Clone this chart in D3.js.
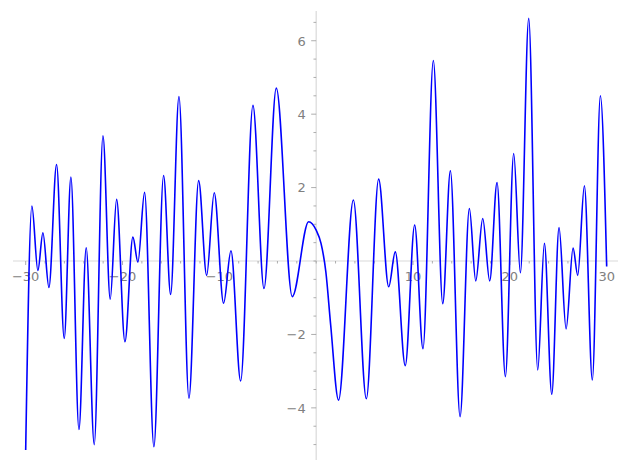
<!DOCTYPE html>
<html>
<head>
<meta charset="utf-8">
<script src="https://cdn.jsdelivr.net/npm/d3@7"></script>
<style>
  body { margin: 0; background: #fff; }
  text { font-family: "DejaVu Sans", sans-serif; font-size: 13px; fill: #808080; }
</style>
</head>
<body>
<svg id="chart" width="627" height="470"></svg>
<script>
// curve points (mostly local max / min)
const xs = [-30, -29.36, -28.74, -28.22, -27.6, -26.81, -26.02, -25.33, -24.5, -23.75,
  -22.92, -22.02, -21.27, -20.61, -19.75, -18.93, -18.41, -17.72, -16.76, -15.76,
  -15.03, -14.17, -13.14, -12.14, -11.31, -10.53, -9.56, -8.8, -7.8, -6.53,
  -5.39, -4.12, -2.47, -0.78, 0, 0.5, 1.0, 1.5, 2.31, 3.84,
  5.18, 6.45, 7.49, 8.17, 9.2, 10.17, 11.03, 12.1, 13.07, 13.86,
  14.86, 15.82, 16.48, 17.2, 17.92, 18.68, 19.54, 20.4, 21.09, 21.95,
  22.88, 23.57, 24.33, 25.08, 25.81, 26.53, 27.01, 27.7, 28.52, 29.35, 30];
const ys = [-5.15, 1.5, -0.26, 0.77, -0.72, 2.63, -2.11, 2.29, -4.59, 0.36,
  -5.0, 3.41, -1.04, 1.68, -2.2, 0.65, -0.03, 1.87, -5.06, 2.33,
  -0.91, 4.48, -3.74, 2.19, -0.39, 1.86, -1.15, 0.28, -3.27, 4.24,
  -0.75, 4.71, -0.97, 1.07, 0.84, 0.48, -0.3, -1.75, -3.79, 1.66,
  -3.75, 2.23, -0.7, 0.25, -2.85, 0.98, -2.39, 5.46, -1.16, 2.46,
  -4.24, 1.43, -0.54, 1.16, -0.54, 2.14, -3.15, 2.93, -0.32, 6.61,
  -2.97, 0.48, -3.63, 0.91, -1.85, 0.35, -0.39, 2.05, -3.24, 4.5, -0.15];

const xMajor = [-30, -20, -10, 10, 20, 30];
const xMinor = d3.range(-30, 31, 2);
const yMajor = [-4, -2, 2, 4, 6];
const yMinor = d3.range(-5, 6.51, 0.5);

const svg = d3.select("#chart");

const x = d3.scaleLinear().domain([-31.31, 31.17]).range([13, 618]);
const y = d3.scaleLinear().domain([-5.42, 6.81]).range([460, 11]);

const fmt = d => (d < 0 ? "\u2212" + Math.abs(d) : "" + d);

// axes lines
svg.append("line")
  .attr("x1", x(-31.31)).attr("x2", x(31.17))
  .attr("y1", y(0)).attr("y2", y(0))
  .attr("stroke", "#d9d9d9").attr("stroke-width", 1.2);
svg.append("line")
  .attr("x1", x(0)).attr("x2", x(0))
  .attr("y1", y(6.81)).attr("y2", y(-5.42))
  .attr("stroke", "#d9d9d9").attr("stroke-width", 1.2);

// x ticks
svg.append("g").selectAll("line")
  .data(xMinor)
  .join("line")
  .attr("x1", d => x(d)).attr("x2", d => x(d))
  .attr("y1", y(0)).attr("y2", d => y(0) + (xMajor.includes(d) ? 4 : 2.5))
  .attr("stroke", "#999").attr("stroke-width", 0.8);

svg.append("g").selectAll("text")
  .data(xMajor)
  .join("text")
  .attr("x", d => x(d))
  .attr("y", y(0) + 19.5)
  .attr("text-anchor", "middle")
  .text(fmt);

// y ticks
svg.append("g").selectAll("line")
  .data(yMinor)
  .join("line")
  .attr("x1", x(0)).attr("x2", d => x(0) - (yMajor.includes(d) ? 5 : 2.7))
  .attr("y1", d => y(d)).attr("y2", d => y(d))
  .attr("stroke", "#999").attr("stroke-width", 0.8);

svg.append("g").selectAll("text")
  .data(yMajor)
  .join("text")
  .attr("x", x(0) - 10.5)
  .attr("y", d => y(d) + 4.8)
  .attr("text-anchor", "end")
  .text(fmt);

// the curve
const pts = xs.map((v, i) => [v, ys[i]]);
const line = d3.line()
  .x(d => x(d[0]))
  .y(d => y(d[1]))
  .curve(d3.curveMonotoneX);

svg.append("path")
  .datum(pts)
  .attr("d", line)
  .attr("fill", "none")
  .attr("stroke", "#0000ff")
  .attr("stroke-width", 1.6);
</script>
</body>
</html>
